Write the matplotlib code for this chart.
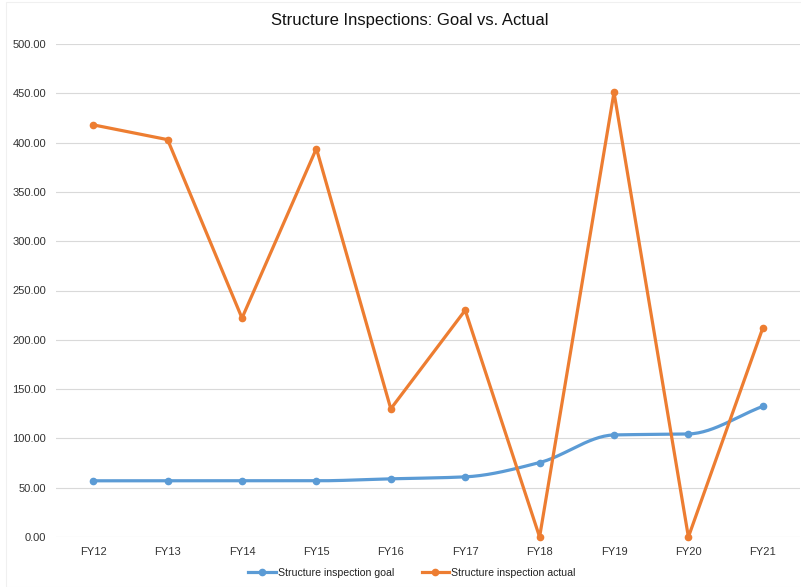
import numpy as np
import matplotlib
matplotlib.use("Agg")
import matplotlib.pyplot as plt
from matplotlib.patches import Rectangle

plt.rcParams['font.family'] = ['Liberation Sans', 'DejaVu Sans']

years = ["FY12", "FY13", "FY14", "FY15", "FY16", "FY17", "FY18", "FY19", "FY20", "FY21"]
goal = [57, 57, 57, 57, 59, 61, 75.5, 103.5, 104.5, 132.5]
actual = [418, 403, 222, 394, 130, 230, 0, 451, 0, 212]

BLUE = "#5B9BD5"
ORANGE = "#ED7D31"


def monotone_curve(xs, ys, n=30):
    """Monotone cubic (Fritsch-Carlson) rendering of a smoothed line."""
    xs = np.asarray(xs, float)
    ys = np.asarray(ys, float)
    h = np.diff(xs)
    d = np.diff(ys) / h
    m = np.zeros_like(ys)
    m[0], m[-1] = d[0], d[-1]
    for i in range(1, len(ys) - 1):
        if d[i - 1] * d[i] <= 0:
            m[i] = 0.0
        else:
            w1 = 2 * h[i] + h[i - 1]
            w2 = h[i] + 2 * h[i - 1]
            m[i] = (w1 + w2) / (w1 / d[i - 1] + w2 / d[i])
    out_x, out_y = [], []
    t = np.linspace(0, 1, n, endpoint=False)
    for i in range(len(xs) - 1):
        h00 = 2 * t**3 - 3 * t**2 + 1
        h10 = t**3 - 2 * t**2 + t
        h01 = -2 * t**3 + 3 * t**2
        h11 = t**3 - t**2
        yy = h00 * ys[i] + h10 * h[i] * m[i] + h01 * ys[i + 1] + h11 * h[i] * m[i + 1]
        out_x.extend(xs[i] + t * h[i])
        out_y.extend(yy)
    out_x.append(xs[-1])
    out_y.append(ys[-1])
    return np.array(out_x), np.array(out_y)


fig = plt.figure(figsize=(8.01, 5.87), dpi=100)
W, H = 801, 587
fig.patches.append(Rectangle((6 / W, 0), 1, 1 - 2 / H, transform=fig.transFigure,
                             fill=False, edgecolor="#F0F0F0", lw=0.8))
ax = fig.add_axes([56 / W, (H - 537) / H, 744 / W, 493 / H])

x = np.arange(len(years))

sx, sy = monotone_curve(x, goal)
ax.plot(sx, sy, color=BLUE, lw=2.3, solid_capstyle='round', zorder=3, clip_on=False)
ax.plot(x, goal, 'o', color=BLUE, ms=4.5, zorder=4, clip_on=False)
ax.plot(x, actual, '-o', color=ORANGE, lw=2.3, ms=4.5, zorder=5, clip_on=False)

ax.set_xlim(-0.5, len(years) - 0.5)
ax.set_ylim(0, 500)
ax.set_yticks(np.arange(0, 501, 50))
ax.set_yticklabels([f"{v:.2f}" for v in np.arange(0, 501, 50)])
ax.set_xticks(x)
ax.set_xticklabels(years)
ax.tick_params(axis='both', length=0, labelsize=8, colors="#333333")
ax.tick_params(axis='y', pad=7)
ax.tick_params(axis='x', pad=7)
ax.grid(axis='y', color="#D9D9D9", lw=0.8)
ax.set_axisbelow(True)
for s in ax.spines.values():
    s.set_visible(False)

fig.text(410 / W, 1 - 20 / H, "Structure Inspections: Goal vs. Actual",
         ha='center', va='center', fontsize=12, color="#111111")

h1, = ax.plot([], [], '-o', color=BLUE, lw=2.3, ms=4.5)
h2, = ax.plot([], [], '-o', color=ORANGE, lw=2.3, ms=4.5)
fig.legend([h1, h2], ["Structure inspection goal", "Structure inspection actual"],
           loc='center', bbox_to_anchor=(412 / W, 1 - 573 / H), ncol=2,
           frameon=False, fontsize=7.6, handlelength=2.6, handletextpad=0.2,
           columnspacing=2.6, labelcolor="#222222")

fig.savefig("out.png", dpi=100)
